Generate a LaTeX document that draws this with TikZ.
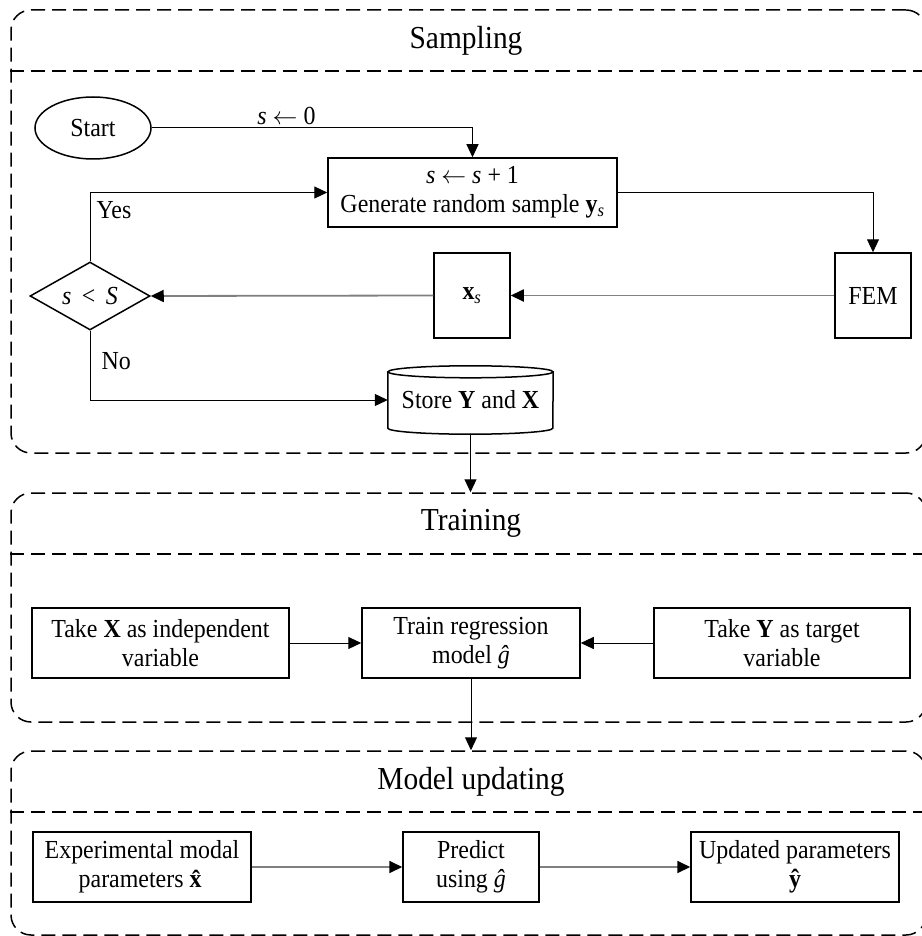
\documentclass[tikz,border=0pt]{standalone}
\usepackage{fontspec}
\setmainfont{Liberation Serif}[FakeStretch=0.92]
\usetikzlibrary{arrows.meta,shapes.geometric}
\newcommand\bodyfont{\fontsize{26pt}{29pt}\selectfont}
\newcommand\titlefont{\fontsize{32pt}{36pt}\selectfont}
\newcommand\larr{\ensuremath{\leftarrow}}
\definecolor{lgray}{RGB}{128,128,128}
\tikzset{
  box/.style={draw, line width=1.5pt, align=center, inner sep=0pt, font=\bodyfont},
  cont/.style={draw, dash pattern=on 14pt off 7pt, line width=1.5pt, rounded corners=20pt, inner sep=0pt},
  divider/.style={dash pattern=on 14pt off 7pt, line width=1.5pt},
  ttl/.style={font=\titlefont, inner sep=0pt},
  arr/.style={-{Triangle[length=13pt,width=12pt,color=black]}, line width=1pt},
  garr/.style={arr, draw=lgray, line width=1.8pt},
  lbl/.style={font=\bodyfont, inner sep=0pt}
}
\begin{document}
\begin{tikzpicture}[x=1pt,y=-1pt]
\useasboundingbox (0,0) rectangle (921,936);
% containers
\node[cont, minimum width=915pt, minimum height=443pt] (samp) at (468.5,231.5) {};
\node[cont, minimum width=915pt, minimum height=229pt] (train) at (468.5,607.5) {};
\node[cont, minimum width=915pt, minimum height=184pt] (mupd) at (468.5,843) {};
\draw[divider] (samp.west |- 0,71) -- (samp.east |- 0,71);
\draw[divider] (train.west |- 0,554) -- (train.east |- 0,554);
\draw[divider] (mupd.west |- 0,812) -- (mupd.east |- 0,812);
\node[ttl] (tsamp) at (466,40.5) {Sampling};
\node[ttl] (ttrain) at (471,523.5) {Training};
\node[ttl] (tmupd) at (471,781.5) {Model updating};
% sampling
\node[ellipse, draw, line width=1.5pt, minimum width=116pt, minimum height=62pt, inner sep=0pt, font=\bodyfont] (start) at (93,128) {Start};
\node[box, minimum width=289pt, minimum height=69pt] (gen) at (472.5,192.5) {\textit{s} \larr\ \textit{s} + 1\\Generate random sample \textbf{y}\textsubscript{\textit{s}}};
\node[box, minimum width=76pt, minimum height=85pt] (fem) at (873,295.5) {FEM};
\node[box, minimum width=76pt, minimum height=85pt] (xs) at (472,295.5) {\textbf{x}\textsubscript{\textit{s}}};
\node[diamond, aspect=2.2, draw, line width=1.5pt, minimum width=120pt, minimum height=68pt, inner sep=0pt, font=\bodyfont] (dec) at (90,296) {\textit{s}\hspace{0.4em}<\hspace{0.4em}\textit{S}};
\node[inner sep=0pt, minimum width=165pt, minimum height=68pt, font=\bodyfont] (store) at (470.5,400) {Store \textbf{Y} and \textbf{X}};
\draw[line width=1.5pt] ([yshift=-6pt]store.north west) -- ([yshift=6pt]store.south west)
   arc[start angle=180, end angle=360, x radius=82.5pt, y radius=6pt] -- ([yshift=-6pt]store.north east);
\draw[line width=1.5pt] ([yshift=-6pt]store.north) ellipse[x radius=82.5pt, y radius=6pt];
\draw[arr] (start.east) -| node[lbl, pos=0.21, above=3pt] {\textit{s} \larr\ 0} (gen.north);
\draw[arr] (gen.east) -| (fem.north);
\draw[garr] (fem.west) -- (xs.east);
\draw[garr] (xs.west) -- (dec.east);
\draw[arr] (dec.north) |- node[lbl, pos=0.37, right=6pt] {Yes} (gen.west);
\draw[arr] (dec.south) |- node[lbl, pos=0.22, right=11pt] {No} (store.west);
\draw[arr] (store.south) -- (store.south |- train.north);
% training
\node[box, minimum width=257pt, minimum height=70pt] (tA) at (160.5,643) {Take \textbf{X} as independent\\variable};
\node[box, minimum width=218pt, minimum height=70pt] (tB) at (471,643) {Train regression\\model \textit{ĝ}};
\node[box, minimum width=256pt, minimum height=70pt] (tC) at (782,643) {Take \textbf{Y} as target\\variable};
\draw[arr] (tA.east) -- (tB.west);
\draw[arr] (tC.west) -- (tB.east);
\draw[arr] (tB.south) -- (tB.south |- mupd.north);
% model updating
\node[box, minimum width=218pt, minimum height=70pt] (mA) at (142,867) {Experimental modal\\parameters \textbf{\^{x}}};
\node[box, minimum width=136pt, minimum height=70pt] (mB) at (471,867) {Predict\\using \textit{ĝ}};
\node[box, minimum width=208pt, minimum height=70pt] (mC) at (795,867) {Updated parameters\\\textbf{ŷ}};
\draw[garr] (mA.east) -- (mB.west);
\draw[garr] (mB.east) -- (mC.west);
\end{tikzpicture}
\end{document}
